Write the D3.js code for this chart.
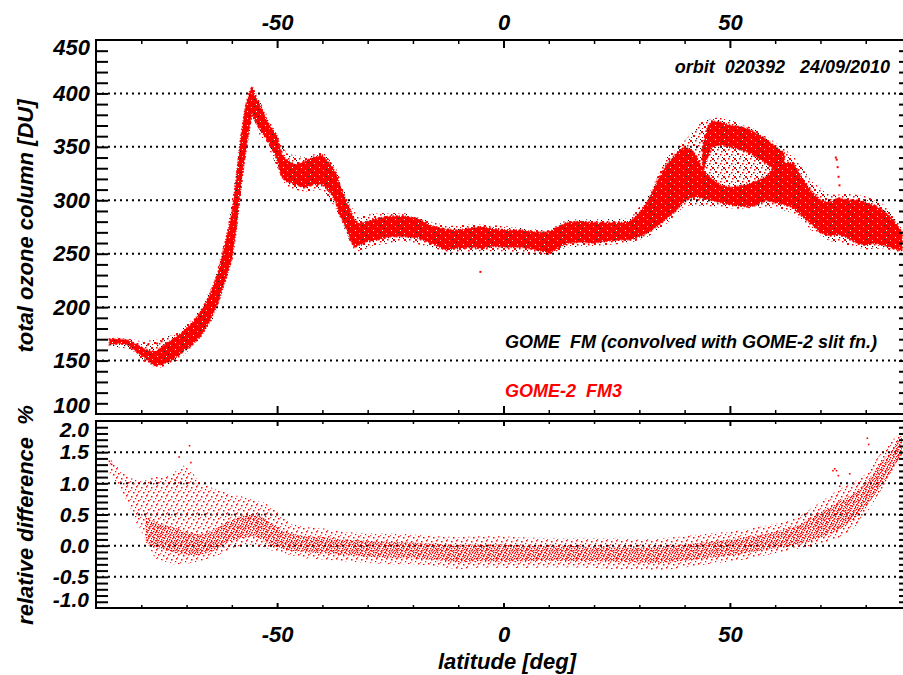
<!DOCTYPE html>
<html lang="en">
<head>
<meta charset="UTF-8">
<script src="https://cdn.jsdelivr.net/npm/d3@7/dist/d3.min.js"></script>
<title>GOME vs GOME-2 total ozone</title>
<style>
body { margin: 0; background: #fff; }
svg text { font-family: "Liberation Sans", Arial, sans-serif; font-weight: bold; font-style: italic; fill: #000; }
.num { font-size: 22px; }
.num2 { font-size: 21px; }
.ttl { font-size: 22px; white-space: pre; }
.lab { font-size: 18px; white-space: pre; }
</style>
</head>
<body>
<svg id="chart" width="903" height="675"></svg>
<script>
// ---- data ----
// top panel, GOME-2 FM3 dense band (latitude, lower / upper edge, DU)
const ozLat = [-87,-85,-83,-81,-79,-77,-75,-73,-71,-69,-67,-65,-63,-61,-60,-59,-58,-57,-56,-55.5,-55,-54,-53,-52,-51,-50,-49,-48,-46,-44,-42,-40,-38,-37,-36,-35,-34,-33,-32,-30,-28,-25,-22,-19,-16,-13,-10,-7,-5,-2,1,4,7,10,12,14,17,20,23,26,28,30,32,34,36,38,40,42,43,44,46,48,50,52,54,56,58,60,62,64,66,68,70,72,74,76,78,80,82,84,86,88];
const gome2Lo = [165,166,165,158,152,145,147,151,158,164,172,186,205,232,245,275,315,345,372,382,376,368,362,355,348,338,322,318,315,312,315,315,306,298,285,276,266,256,258,262,263,266,266,265,260,254,255,256,255,257,256,256,254,251,255,260,261,260,262,263,263,266,270,276,283,290,300,303,303,302,300,298,296,295,294,296,300,298,296,293,285,278,270,267,268,265,260,258,260,258,255,253];
const gome2Hi = [170,170,169,165,160,158,164,170,176,184,195,210,232,268,287,320,358,387,402,406,398,391,382,372,366,360,343,338,333,336,340,342,332,325,312,302,292,282,278,280,283,285,285,283,276,273,272,274,275,273,272,272,270,270,275,279,280,279,279,279,280,288,300,318,333,343,350,345,338,328,320,314,312,313,315,318,322,332,335,335,320,308,300,298,302,300,300,298,295,290,282,270];
// upper track of GOME-2 between 44N and 62N
const upLat = [44,45,46,48,50,52,54,56,58,60,62];
const upLo = [325,340,350,352,350,348,345,340,335,328,320];
const upHi = [350,368,374,373,370,369,367,362,357,350,344];
// sparse envelope where GOME FM and GOME-2 scatter lies
const envLat = [-87,-82,-80,-76,-72,-68,-64,-61,-59,-57,-55.5,-54,-52,-48,-44,-40,-37,-34,-32,-28,-22,-16,-12,-6,0,6,10,14,20,28,32,36,40,44,48,52,56,60,64,68,72,76,80,84,88];
const gomeLo = [164,160,150,143,150,165,190,228,270,340,378,362,350,312,308,310,292,262,252,258,262,256,251,252,252,250,249,256,257,260,266,278,295,295,293,292,293,293,288,272,262,258,254,255,250];
const gomeHi = [172,170,168,170,176,192,222,272,328,390,408,394,378,344,340,346,330,296,285,288,288,280,276,278,276,273,272,282,282,283,305,340,356,375,378,372,366,354,342,318,305,306,304,296,275];
// single stray points
const ozOutLat = [-5.1,73.4,73.6,73.8,74.0,74.2,-78.5,-76.5,-75.5];
const ozOutVal = [233,340,338,331,322,314,165,166,168];

// bottom panel, relative difference [%]
const dEnvLat = [-87,-85,-83,-81,-79,-77,-75,-73,-71,-69,-67,-65,-63,-61,-59,-57,-55,-53,-51,-49,-47,-44,-40,-35,-30,-25,-20,-15,-10,-5,0,5,10,15,20,25,30,35,40,45,50,55,60,65,68,71,74,77,80,83,86,88];
const dEnvLo = [1.15,0.95,0.7,0.35,0.1,-0.2,-0.25,-0.3,-0.3,-0.28,-0.25,-0.2,-0.15,-0.08,-0.02,0.02,0.0,-0.02,-0.08,-0.12,-0.15,-0.2,-0.22,-0.25,-0.28,-0.3,-0.3,-0.33,-0.38,-0.35,-0.36,-0.36,-0.35,-0.35,-0.36,-0.38,-0.38,-0.4,-0.35,-0.3,-0.26,-0.2,-0.12,-0.05,0.0,0.05,0.12,0.25,0.5,0.85,1.15,1.4];
const dEnvHi = [1.4,1.25,1.1,1.05,1.05,1.1,1.1,1.15,1.3,1.2,1.0,0.95,0.88,0.85,0.8,0.78,0.72,0.7,0.6,0.48,0.35,0.3,0.28,0.22,0.2,0.2,0.18,0.15,0.14,0.15,0.15,0.13,0.12,0.12,0.12,0.12,0.1,0.12,0.15,0.2,0.22,0.28,0.35,0.45,0.6,0.75,0.9,1.0,1.15,1.45,1.7,1.85];
const dLat = [-79,-76,-73,-70,-67,-64,-61,-58,-55,-53,-51,-49,-47,-44,-40,-35,-30,-25,-20,-15,-10,-5,0,5,10,15,20,25,30,35,40,45,50,55,60,65,68,71,74,77,80,83,86,88];
const dLo = [0.05,-0.05,-0.1,-0.15,-0.15,-0.08,0.05,0.12,0.15,0.08,0.0,-0.05,-0.08,-0.1,-0.12,-0.15,-0.18,-0.2,-0.2,-0.23,-0.27,-0.25,-0.26,-0.25,-0.24,-0.25,-0.25,-0.26,-0.27,-0.28,-0.24,-0.2,-0.16,-0.1,-0.04,0.02,0.07,0.15,0.25,0.4,0.62,0.92,1.25,1.45];
const dHi = [0.45,0.35,0.3,0.22,0.18,0.25,0.38,0.48,0.5,0.45,0.35,0.25,0.2,0.15,0.14,0.1,0.08,0.06,0.05,0.03,0.01,0.02,0.02,0.0,0.0,0.0,-0.02,-0.02,-0.03,-0.02,0.02,0.06,0.1,0.15,0.22,0.32,0.45,0.58,0.7,0.82,1.0,1.3,1.55,1.75];
const dOutLat = [-71.6,-69.3,-69,-72.5,72.8,73.2,73.6,74.0,74.3,80.4,80.7,76.5,-87,-86.5];
const dOutVal = [1.42,1.6,1.33,1.05,1.2,1.23,1.2,1.12,0.95,1.72,1.62,1.15,1.35,1.3];

// tick values
const ozMajor = [100,150,200,250,300,350,400,450];
const dMajor = [-1.0,-0.5,0.0,0.5,1.0,1.5,2.0];
const latMajor = [-50,0,50];

// ---- layout ----
const left = 96, right = 911;
const t0 = 40, t1 = 414, b0 = 421, b1 = 608;

const x = d3.scaleLinear().domain([-90, 90]).range([left, right]);
const yOz = d3.scaleLinear().domain([100, 450]).range([t1, t0]);
const yD = d3.scaleLinear().domain([-1, 2]).range([b1, b0]);

const svg = d3.select("#chart");
svg.append("rect").attr("width", 903).attr("height", 675).attr("fill", "#fff");
const defs = svg.append("defs");

// stipple patterns that mimic the dot clouds
function pattern(id, w, h, bg, dots) {
    const p = defs.append("pattern").attr("id", id)
        .attr("patternUnits", "userSpaceOnUse").attr("width", w).attr("height", h);
    if (bg) p.append("rect").attr("width", w).attr("height", h).attr("fill", bg);
    dots.forEach(d => p.append("rect").attr("x", d[0]).attr("y", d[1])
        .attr("width", d[2]).attr("height", d[2]).attr("fill", d[3]));
}
pattern("pRed", 9, 7, "#ff0000", [[2,1,1,"#333"],[6,4,1,"#800000"],[4,6,1,"#fff"],[8,2,1,"#ffb0b0"]]);
pattern("pMix", 11, 9, null, [[0,0,2,"#f00"],[5,1,1.5,"#f00"],[8,5,2,"#f00"],[2,5,1.5,"#f00"],[6,7,1.5,"#f00"],[9,2,1,"#f00"],[3,3,1.2,"#111"],[10,7,1.2,"#111"],[7,4,1,"#111"]]);
pattern("pDcore", 8, 8, null, [[0,0,1.4,"#f00"],[2,1,1.3,"#f00"],[5,0,1.4,"#f00"],[7,2,1.3,"#f00"],[4,2,1.2,"#f00"],[1,3,1.4,"#f00"],[6,4,1.3,"#f00"],[3,4,1.3,"#f00"],[0,5,1.2,"#f00"],[5,6,1.4,"#f00"],[2,6,1.3,"#f00"],[7,6,1.2,"#f44"],[4,7,1,"#f44"],[1,7,1,"#f44"]]);
pattern("pDout", 10, 9, null, [[1,1,1.5,"#f00"],[6,0,1.5,"#f00"],[8,5,1.5,"#f00"],[3,6,1.5,"#f00"],[0,4,1.2,"#f44"],[5,3,1.2,"#f00"],[7,8,1.2,"#f44"]]);

defs.append("clipPath").attr("id", "clipTop").append("rect")
    .attr("x", left).attr("y", t0).attr("width", right - left).attr("height", t1 - t0);
defs.append("clipPath").attr("id", "clipBot").append("rect")
    .attr("x", left).attr("y", b0).attr("width", right - left).attr("height", b1 - b0);

function band(lat, lo, hi, y) {
    return d3.area()
        .x((d, i) => x(lat[i]))
        .y0((d, i) => y(lo[i]))
        .y1((d, i) => y(hi[i]))(lat);
}

// grid lines (dotted)
const grid = svg.append("g").attr("stroke", "#000").attr("stroke-width", 2).attr("stroke-dasharray", "2 4");
grid.selectAll(".gt").data(ozMajor.slice(1, -1)).join("line")
    .attr("x1", left).attr("x2", right).attr("y1", d => yOz(d)).attr("y2", d => yOz(d));
grid.selectAll(".gb").data(dMajor.slice(1, -1)).join("line")
    .attr("x1", left).attr("x2", right).attr("y1", d => yD(d)).attr("y2", d => yD(d));

// top panel data
const topG = svg.append("g").attr("clip-path", "url(#clipTop)");
topG.append("path").attr("d", band(envLat, gomeLo, gomeHi, yOz)).attr("fill", "url(#pMix)");
topG.append("path").attr("d", band(ozLat, gome2Lo, gome2Hi, yOz)).attr("fill", "url(#pRed)")
    .attr("stroke", "url(#pRed)").attr("stroke-width", 2).attr("stroke-dasharray", "1 2 2 1");
topG.append("path").attr("d", band(upLat, upLo, upHi, yOz)).attr("fill", "url(#pRed)")
    .attr("stroke", "url(#pRed)").attr("stroke-width", 2).attr("stroke-dasharray", "1 2 2 1");
topG.selectAll(".oo").data(ozOutLat).join("rect")
    .attr("x", (d) => x(d) - 1).attr("y", (d, i) => yOz(ozOutVal[i]) - 1)
    .attr("width", 2).attr("height", 2).attr("fill", "#f00");

// bottom panel data
const botG = svg.append("g").attr("clip-path", "url(#clipBot)");
botG.append("path").attr("d", band(dEnvLat, dEnvLo, dEnvHi, yD)).attr("fill", "url(#pDout)");
botG.append("path").attr("d", band(dLat, dLo, dHi, yD)).attr("fill", "url(#pDcore)");
botG.selectAll(".do").data(dOutLat).join("rect")
    .attr("x", (d) => x(d) - 1).attr("y", (d, i) => yD(dOutVal[i]) - 1)
    .attr("width", 1.6).attr("height", 1.6).attr("fill", "#f00");

// frames
const frame = svg.append("g").attr("fill", "none").attr("stroke", "#000").attr("stroke-width", 2);
frame.append("rect").attr("x", left).attr("y", t0).attr("width", right - left).attr("height", t1 - t0);
frame.append("rect").attr("x", left).attr("y", b0).attr("width", right - left).attr("height", b1 - b0);

// helpers for tick-only axes
function ticksOnly(sel, axis, width) {
    sel.call(axis.tickFormat(""));
    sel.select(".domain").remove();
    sel.selectAll(".tick line").attr("stroke-width", width);
}
const latMinor = d3.range(-80, 81, 10).filter(v => v % 50 !== 0);

// x ticks on both panels
[[t0, d3.axisBottom, 8, 4], [t1, d3.axisTop, 8, 4], [b0, d3.axisBottom, 5, 3], [b1, d3.axisTop, 5, 3]]
    .forEach(([yy, fn, big, small]) => {
        ticksOnly(svg.append("g").attr("transform", `translate(0,${yy})`), fn(x).tickValues(latMajor).tickSize(big), 2);
        ticksOnly(svg.append("g").attr("transform", `translate(0,${yy})`), fn(x).tickValues(latMinor).tickSize(small), 1.5);
    });

// y ticks, left (inward) and right (inward)
const ozTicks = d3.range(110, 450, 10);
const dTicks = d3.range(-9, 20, 1).map(v => v / 10);
ticksOnly(svg.append("g").attr("transform", `translate(${left},0)`), d3.axisRight(yOz).tickValues(ozTicks).tickSize(12), 2);
ticksOnly(svg.append("g").attr("transform", `translate(${right},0)`), d3.axisLeft(yOz).tickValues(ozTicks).tickSize(12), 2);
ticksOnly(svg.append("g").attr("transform", `translate(${left},0)`), d3.axisRight(yD).tickValues(dTicks).tickSize(12), 2);
ticksOnly(svg.append("g").attr("transform", `translate(${right},0)`), d3.axisLeft(yD).tickValues(dTicks).tickSize(12), 2);

// tick labels
function labels(sel, axis, cls) {
    sel.call(axis);
    sel.select(".domain").remove();
    sel.selectAll(".tick line").remove();
    sel.selectAll("text").attr("class", cls);
    return sel;
}
labels(svg.append("g").attr("transform", `translate(0,${t0})`),
    d3.axisTop(x).tickValues(latMajor).tickSize(0).tickPadding(10).tickFormat(d => String(d)), "num");
labels(svg.append("g").attr("transform", `translate(0,${b1})`),
    d3.axisBottom(x).tickValues(latMajor).tickSize(0).tickPadding(18).tickFormat(d => String(d)), "num");
const ozLab = labels(svg.append("g").attr("transform", `translate(${left},0)`),
    d3.axisLeft(yOz).tickValues(ozMajor).tickSize(0).tickPadding(6).tickFormat(d => String(d)), "num");
ozLab.selectAll(".tick text").attr("y", d => d === 450 ? 7 : d === 100 ? -9 : 0);
const dLab = labels(svg.append("g").attr("transform", `translate(${left},0)`),
    d3.axisLeft(yD).tickValues(dMajor).tickSize(0).tickPadding(7).tickFormat(d => d.toFixed(1)), "num2");
dLab.selectAll(".tick text").attr("y", d => d === 2 ? 9 : d === -1 ? -8 : 0);

// axis titles
svg.append("text").attr("class", "ttl").attr("text-anchor", "middle")
    .attr("transform", "translate(33,226) rotate(-90)").text("total ozone column [DU]");
svg.append("text").attr("class", "ttl").attr("text-anchor", "middle")
    .attr("transform", "translate(33,515) rotate(-90)").text("relative difference  %");
svg.append("text").attr("class", "ttl").attr("text-anchor", "middle")
    .attr("x", 507).attr("y", 669).text("latitude [deg]");

// annotations
svg.append("text").attr("class", "lab").attr("x", 890).attr("y", 73)
    .attr("text-anchor", "end").text("orbit  020392   24/09/2010");
svg.append("text").attr("class", "lab").attr("x", 505).attr("y", 348)
    .text("GOME  FM (convolved with GOME-2 slit fn.)");
svg.append("text").attr("class", "lab").attr("x", 505).attr("y", 397)
    .style("fill", "#f00").text("GOME-2  FM3");
</script>
</body>
</html>
